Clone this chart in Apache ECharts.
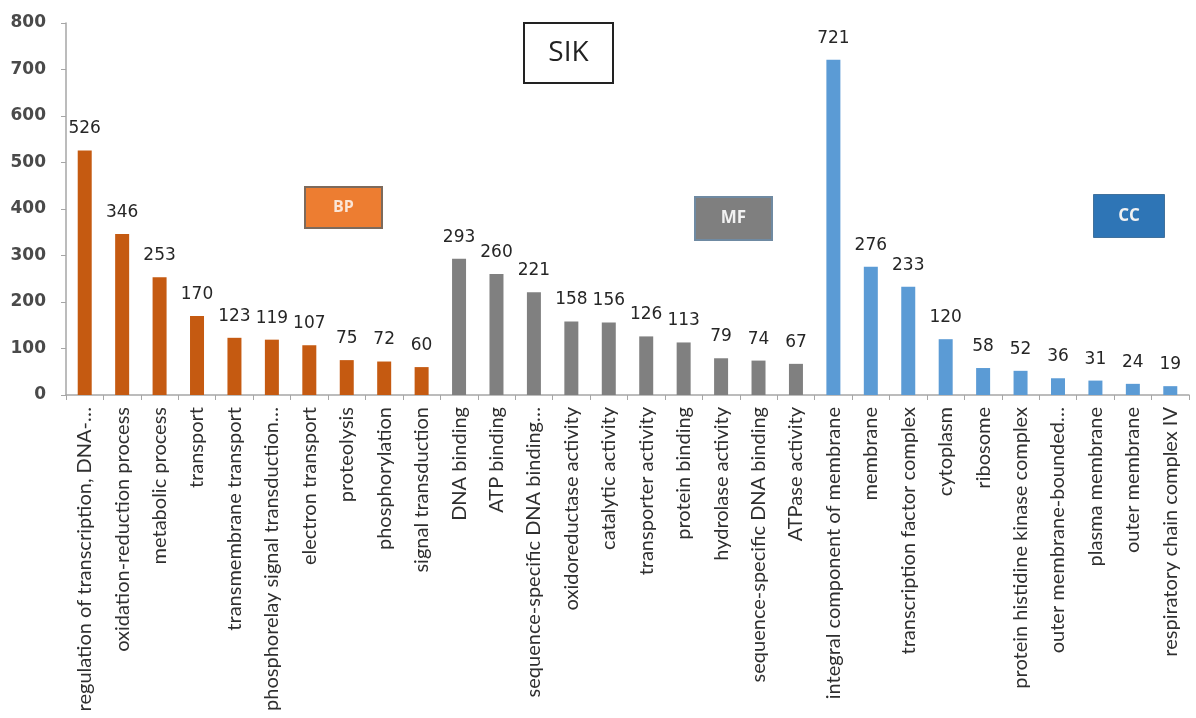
<!DOCTYPE html>
<html>
<head>
<meta charset="utf-8">
<script src="https://cdn.jsdelivr.net/npm/echarts@6/dist/echarts.min.js"></script>
<style>
  html, body { margin: 0; padding: 0; background: #ffffff; }
  #chart { width: 1196px; height: 718px; }
</style>
</head>
<body>
<div id="chart"></div>
<script>
// GO term counts for SIK, grouped by ontology
const bpTerms = ['regulation of transcription, DNA-…', 'oxidation-reduction process', 'metabolic process',
  'transport', 'transmembrane transport', 'phosphorelay signal transduction…', 'electron transport',
  'proteolysis', 'phosphorylation', 'signal transduction'];
const bpCounts = [526, 346, 253, 170, 123, 119, 107, 75, 72, 60];

const mfTerms = ['DNA binding', 'ATP binding', 'sequence-specific DNA binding…', 'oxidoreductase activity',
  'catalytic activity', 'transporter activity', 'protein binding', 'hydrolase activity',
  'sequence-specific DNA binding', 'ATPase activity'];
const mfCounts = [293, 260, 221, 158, 156, 126, 113, 79, 74, 67];

const ccTerms = ['integral component of membrane', 'membrane', 'transcription factor complex', 'cytoplasm',
  'ribosome', 'protein histidine kinase complex', 'outer membrane-bounded…', 'plasma membrane',
  'outer membrane', 'respiratory chain complex IV'];
const ccCounts = [721, 276, 233, 120, 58, 52, 36, 31, 24, 19];

const yTicks = [0, 100, 200, 300, 400, 500, 600, 700, 800];

const groupColors = { BP: '#C55A11', MF: '#808080', CC: '#5B9BD5' };

const categories = bpTerms.concat(mfTerms, ccTerms);
const barData = []
  .concat(bpCounts.map(v => ({ value: v, itemStyle: { color: groupColors.BP } })))
  .concat(mfCounts.map(v => ({ value: v, itemStyle: { color: groupColors.MF } })))
  .concat(ccCounts.map(v => ({ value: v, itemStyle: { color: groupColors.CC } })));

const chart = echarts.init(document.getElementById('chart'), null, { renderer: 'canvas' });

// Boxed labels for the title and the three ontology groups
function tagBox(text, x, y, w, h, fill, stroke, textColor, fontSize, fontWeight, lineW) {
  return {
    type: 'group',
    left: x, top: y,
    children: [
      { type: 'rect', shape: { x: 0, y: 0, width: w, height: h },
        style: { fill: fill, stroke: stroke, lineWidth: lineW } },
      { type: 'text', x: w / 2, y: h / 2,
        style: { text: text, fill: textColor, font: fontWeight + ' ' + fontSize + 'px "Open Sans", sans-serif',
                 textAlign: 'center', textVerticalAlign: 'middle' } }
    ]
  };
}

chart.setOption({
  animation: false,
  backgroundColor: '#ffffff',
  grid: { left: 66, right: 7, top: 23, bottom: 323, containLabel: false },
  xAxis: {
    type: 'category',
    data: categories,
    axisLine: { lineStyle: { color: '#a6a6a6', width: 1.5 } },
    axisTick: { show: true, length: 5, lineStyle: { color: '#a6a6a6' } },
    axisLabel: {
      interval: 0, rotate: 90, margin: 12,
      fontFamily: 'Lato, sans-serif', fontSize: 20, color: '#2f2f2f'
    }
  },
  yAxis: {
    type: 'value',
    min: yTicks[0], max: yTicks[yTicks.length - 1], interval: yTicks[1] - yTicks[0],
    splitLine: { show: false },
    axisLine: { show: true, lineStyle: { color: '#a6a6a6', width: 1.5 } },
    axisTick: { show: true, length: 5, lineStyle: { color: '#a6a6a6' } },
    axisLabel: {
      margin: 20,
      fontFamily: '"DejaVu Sans", sans-serif', fontSize: 17, fontWeight: 'bold', color: '#4a4a4a'
    }
  },
  series: [{
    type: 'bar',
    data: barData,
    barWidth: 14,
    label: {
      show: true, position: 'top', distance: 13,
      fontFamily: '"DejaVu Sans", sans-serif', fontSize: 17, color: '#262626'
    }
  }],
  graphic: [
    tagBox('SIK', 523, 22, 89, 60, '#ffffff', '#222222', '#222222', 28, 'normal', 2),
    tagBox('BP', 304, 186, 77, 41, '#ED7D31', '#7c6a5c', '#fbe5d6', 16, 'bold', 2),
    tagBox('MF', 694, 196, 77, 43, '#7F7F7F', '#6f8aa2', '#f2f2f2', 17, 'bold', 2),
    tagBox('CC', 1093, 194, 71, 43, '#2E75B6', '#41719C', '#f2f2f2', 17, 'bold', 1)
  ]
});
</script>
</body>
</html>
